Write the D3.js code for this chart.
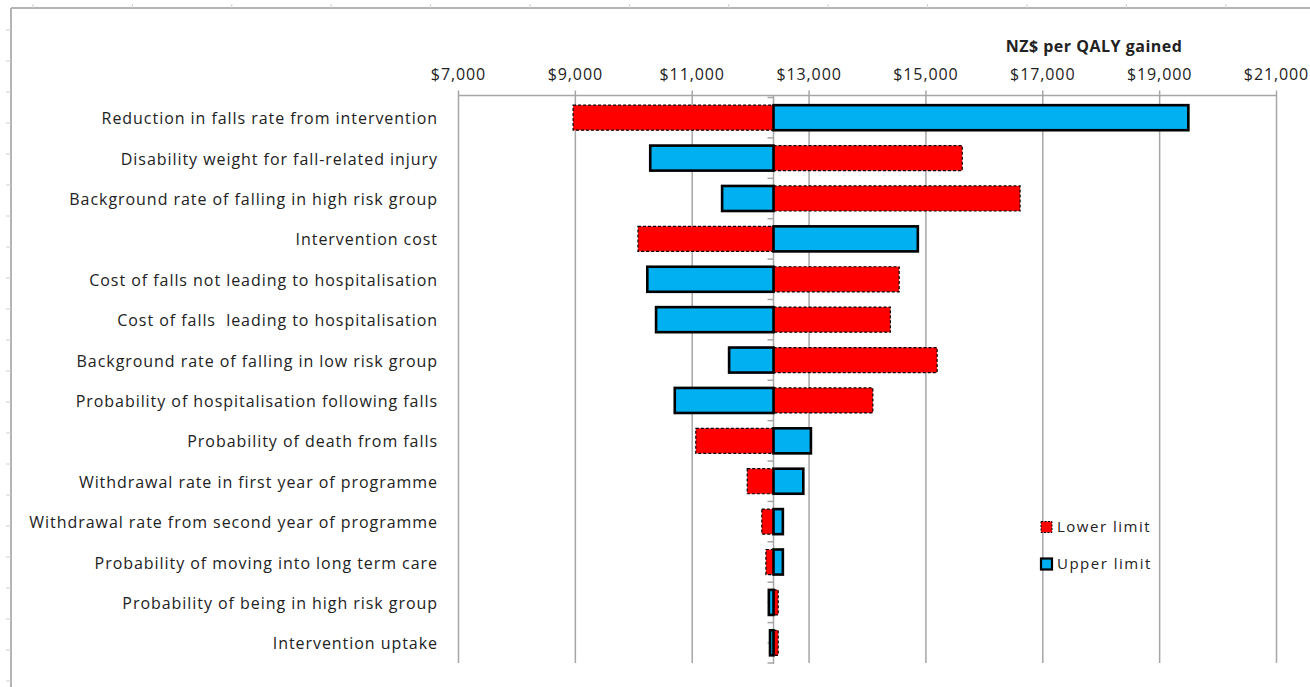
<!DOCTYPE html>
<html>
<head>
<meta charset="utf-8">
<script src="https://cdn.jsdelivr.net/npm/d3@7"></script>
<style>
  html, body { margin: 0; padding: 0; background: #fff; }
  svg { display: block; }
  text { font-family: "Open Sans", "Noto Sans", sans-serif; white-space: pre; }
</style>
</head>
<body>
<svg id="chart" width="1310" height="687"></svg>
<script>
// ---- data ----
const categories = [
  "Reduction in falls rate from intervention",
  "Disability weight for fall-related injury",
  "Background rate of falling in high risk group",
  "Intervention cost",
  "Cost of falls not leading to hospitalisation",
  "Cost of falls  leading to hospitalisation",
  "Background rate of falling in low risk group",
  "Probability of hospitalisation following falls",
  "Probability of death from falls",
  "Withdrawal rate in first year of programme",
  "Withdrawal rate from second year of programme",
  "Probability of moving into long term care",
  "Probability of being in high risk group",
  "Intervention uptake"
];
const baseValue = 12400;
const lowerLimit = [8970, 15630, 16620, 10080, 14550, 14400, 15200, 14100, 11070, 11950, 12200, 12270, 12480, 12480];
const upperLimit = [19500, 10290, 11520, 14870, 10240, 10390, 11640, 10710, 13040, 12910, 12560, 12560, 12320, 12340];
const tickValues = [7000, 9000, 11000, 13000, 15000, 17000, 19000, 21000];
const axisTitle = "NZ$ per QALY gained";
const seriesNames = ["Lower limit", "Upper limit"];

// ---- layout ----
const svg = d3.select("#chart");
const x = d3.scaleLinear().domain([7000, 21000]).range([458, 1276]);
const y = d3.scaleBand().domain(categories).range([97.5, 663]).paddingInner(0.38).paddingOuter(0.19);
const gridColor = "#a6a6a6";

// spreadsheet-like frame
const frame = svg.append("g");
frame.append("line").attr("x1", 11).attr("x2", 1310).attr("y1", 8).attr("y2", 8)
  .attr("stroke", "#b4b4b4").attr("stroke-width", 2);
frame.append("line").attr("x1", 11).attr("x2", 11).attr("y1", 8).attr("y2", 687)
  .attr("stroke", "#b4b4b4").attr("stroke-width", 2);
frame.selectAll(".tt").data(d3.range(33, 1310, 99.4)).join("line")
  .attr("x1", d => d).attr("x2", d => d).attr("y1", 4).attr("y2", 8)
  .attr("stroke", "#cfcfcf").attr("stroke-width", 1);
frame.selectAll(".lt").data(d3.range(30, 687, 31)).join("line")
  .attr("x1", 6).attr("x2", 11).attr("y1", d => d).attr("y2", d => d)
  .attr("stroke", "#cfcfcf").attr("stroke-width", 1);

// top axis with gridlines
const axisY = 95.5;
const axisG = svg.append("g").attr("transform", `translate(0,${axisY})`)
  .call(d3.axisTop(x).tickValues(tickValues).tickSize(5).tickPadding(8)
    .tickFormat(d => "$" + d3.format(",")(d)));
axisG.select(".domain").attr("stroke", gridColor).attr("stroke-width", 1.5).attr("d", `M${x(7000)},0H${x(21000)}`);
axisG.selectAll(".tick line").attr("stroke", gridColor).attr("stroke-width", 1.5)
  .attr("y2", 663 - axisY).attr("y1", -5);
axisG.selectAll(".tick text").attr("font-size", 16).attr("fill", "#222")
  .attr("letter-spacing", "0.9")
  .attr("font-family", "'Open Sans', sans-serif").attr("dy", "0");
axisG.selectAll(".tick text").attr("y", -16);

// axis title
svg.append("text").attr("x", 1094).attr("y", 52).attr("text-anchor", "middle")
  .attr("font-size", 16).attr("font-weight", "bold").attr("fill", "#222")
  .attr("letter-spacing", "0.5").text(axisTitle);

// center axis line with ticks
const cx = x(baseValue);
svg.append("line").attr("x1", cx).attr("x2", cx).attr("y1", axisY).attr("y2", 664)
  .attr("stroke", gridColor).attr("stroke-width", 1.5);
const step = y.step();
const tickYs = [];
for (let i = 0; i <= categories.length * 2; i++) tickYs.push(y.range()[0] + i * step / 2);
svg.selectAll(".ct").data(tickYs).join("line")
  .attr("x1", cx - 6).attr("x2", cx).attr("y1", d => d).attr("y2", d => d)
  .attr("stroke", gridColor).attr("stroke-width", 1.5);

// bars
const rows = categories.map((c, i) => ({c, lo: lowerLimit[i], hi: upperLimit[i]}));
const barG = svg.append("g");
function drawBar(sel, key, fill, stroke, sw, dash) {
  sel.append("rect")
    .attr("x", d => Math.min(x(d[key]), cx))
    .attr("width", d => Math.abs(x(d[key]) - cx))
    .attr("y", d => y(d.c))
    .attr("height", y.bandwidth())
    .attr("fill", fill).attr("stroke", stroke).attr("stroke-width", sw)
    .attr("stroke-dasharray", dash);
}
const rowG = barG.selectAll("g").data(rows).join("g");
rowG.each(function(d) {
  const g = d3.select(this);
  drawBar(g, "lo", "#ff0000", "#000", 1.2, "3,2");
  drawBar(g, "hi", "#00b0f0", "#000", 2.6, null);
});

// category labels
svg.selectAll(".cat").data(categories).join("text")
  .attr("x", 438).attr("y", d => y(d) + y.bandwidth() / 2 + 1)
  .attr("dy", "0.35em").attr("text-anchor", "end")
  .attr("font-size", 16).attr("letter-spacing", "0.95").attr("fill", "#222").text(d => d);

// legend
const leg = svg.append("g");
const legItems = [
  {name: seriesNames[0], fill: "#ff0000", stroke: "#000", sw: 1, dash: "2,1.5", y: 527},
  {name: seriesNames[1], fill: "#00b0f0", stroke: "#000", sw: 2.2, dash: null, y: 564}
];
legItems.forEach(it => {
  leg.append("rect").attr("x", 1041).attr("y", it.y - 5.5).attr("width", 11).attr("height", 11)
    .attr("fill", it.fill).attr("stroke", it.stroke).attr("stroke-width", it.sw)
    .attr("stroke-dasharray", it.dash);
  leg.append("text").attr("x", 1057).attr("y", it.y).attr("dy", "0.35em")
    .attr("font-size", 15).attr("fill", "#222").attr("letter-spacing", "1.5").text(it.name);
});
</script>
</body>
</html>
